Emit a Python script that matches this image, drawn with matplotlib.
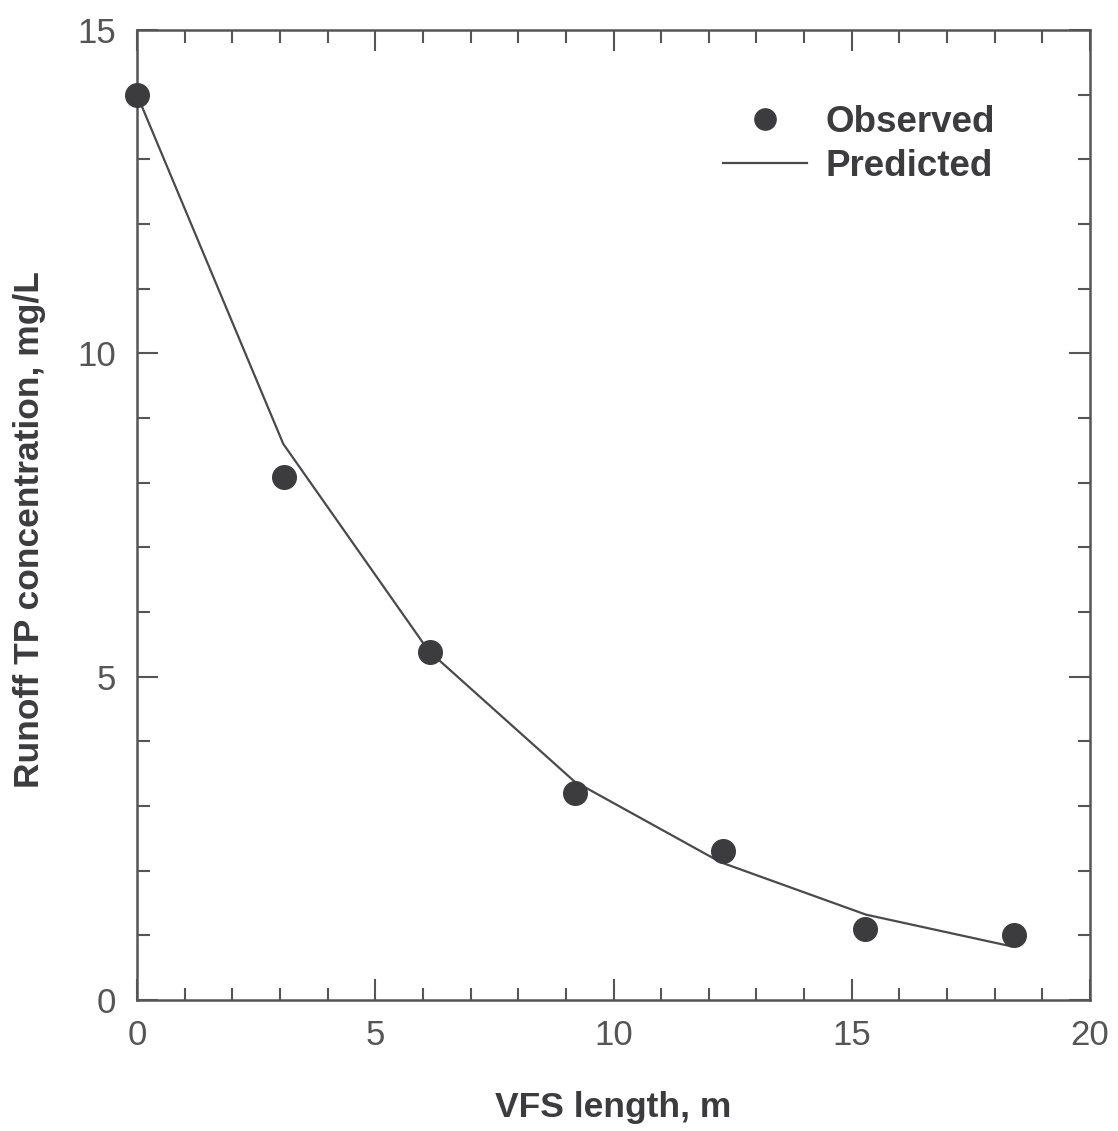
import matplotlib.pyplot as plt
from matplotlib.ticker import MultipleLocator

plt.rcParams['font.family'] = ['Liberation Sans', 'DejaVu Sans']

# VFS length (m) and runoff TP concentration (mg/L)
vfs_obs = [0, 3.08, 6.15, 9.2, 12.3, 15.27, 18.4]
tp_obs = [14.0, 8.08, 5.38, 3.2, 2.3, 1.1, 1.0]

vfs_pred = [0, 3.07, 6.12, 9.18, 12.25, 15.3, 18.35]
tp_pred = [14.0, 8.6, 5.4, 3.38, 2.13, 1.32, 0.83]

dark = '#3c3c3e'
grey = '#555555'

fig = plt.figure(figsize=(11.18, 11.31), dpi=100)
ax = fig.add_axes([0.1225, 0.1158, 0.8525, 0.8577])

ax.plot(vfs_pred, tp_pred, color='#4a4a4a', lw=1.6, label='Predicted', zorder=2)
ax.plot(vfs_obs, tp_obs, 'o', color=dark, ms=17, label='Observed', zorder=3,
        clip_on=False)

ax.set_xlim(0, 20)
ax.set_ylim(0, 15)
ax.xaxis.set_major_locator(MultipleLocator(5))
ax.xaxis.set_minor_locator(MultipleLocator(1))
ax.yaxis.set_major_locator(MultipleLocator(5))
ax.yaxis.set_minor_locator(MultipleLocator(1))

ax.tick_params(which='both', direction='in', top=True, right=True,
               color=grey, width=1.5, labelcolor=grey, labelsize=25)
ax.tick_params(which='major', length=15)
ax.tick_params(which='minor', length=9)
ax.tick_params(axis='x', pad=14)
ax.tick_params(axis='y', pad=15)
for s in ax.spines.values():
    s.set_color(grey)
    s.set_linewidth(1.8)

ax.set_xlabel('VFS length, m', fontsize=25.5, fontweight='bold', color=dark, va='center')
ax.set_ylabel('Runoff TP concentration, mg/L', fontsize=25.5, fontweight='bold',
              color=dark, va='center')
ax.xaxis.set_label_coords(0.5, -0.111)
ax.yaxis.set_label_coords(-0.113, 0.485)

handles, labels = ax.get_legend_handles_labels()
leg = ax.legend(handles[::-1], labels[::-1], loc='upper right',
                bbox_to_anchor=(0.92, 0.942), frameon=False, fontsize=26.5,
                borderpad=0, handlelength=2.3, handletextpad=0.5,
                labelspacing=0.25, markerscale=0.9)
for t in leg.get_texts():
    t.set_color(dark)
    t.set_fontweight('bold')

fig.savefig('out.png', dpi=100, facecolor='white')
